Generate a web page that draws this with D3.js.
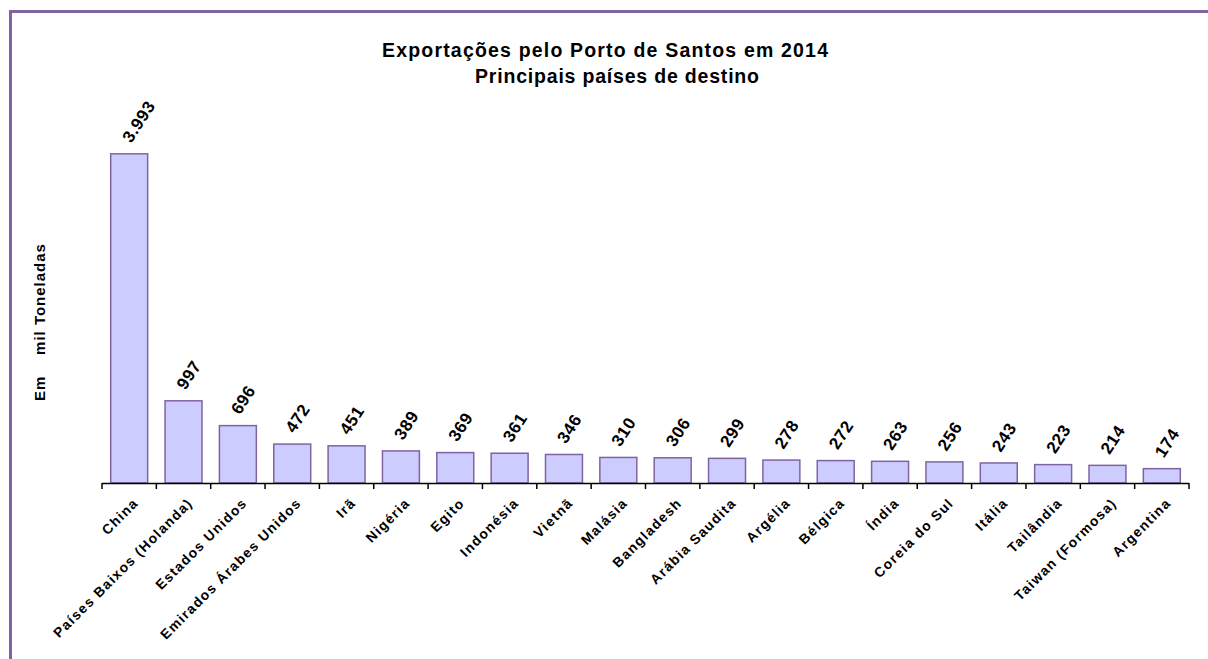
<!DOCTYPE html>
<html><head><meta charset="utf-8">
<script src="https://cdn.jsdelivr.net/npm/d3@7"></script>
<style>
html,body{margin:0;padding:0;background:#fff;}
svg{display:block;font-family:Arial,"Liberation Sans",sans-serif;}
</style></head>
<body>
<svg id="chart" width="1208" height="659"></svg>
<script>
const categories = ["China","Países Baixos (Holanda)","Estados Unidos","Emirados Árabes Unidos","Irã","Nigéria","Egito","Indonésia","Vietnã","Malásia","Bangladesh","Arábia Saudita","Argélia","Bélgica","Índia","Coreia do Sul","Itália","Tailândia","Taiwan (Formosa)","Argentina"];
const values = [3993,997,696,472,451,389,369,361,346,310,306,299,278,272,263,256,243,223,214,174];
const valueLabels = ["3.993","997","696","472","451","389","369","361","346","310","306","299","278","272","263","256","243","223","214","174"];
const titleLines = ["Exportações pelo Porto de Santos em 2014","Principais países de destino"];
const yAxisTitle = "Em    mil Toneladas";

const svg = d3.select("#chart");
const purple = "#8064A2";

// frame
svg.append("path").attr("d","M10.5,659 V11.5 H1208").attr("fill","none").attr("stroke",purple).attr("stroke-width",3);

const left = 102, right = 1189, base = 483;
const x = d3.scaleBand().domain(categories).range([left,right]).paddingInner(0.32).paddingOuter(0.16);
const y = d3.scaleLinear().domain([0,4500]).range([base,112]);

// title
svg.append("text").attr("x",605).attr("y",57).attr("text-anchor","middle")
  .attr("font-size",19.5).attr("font-weight","bold")
  .attr("textLength",446).attr("lengthAdjust","spacing").text(titleLines[0]);
svg.append("text").attr("x",617).attr("y",83).attr("text-anchor","middle")
  .attr("font-size",19.5).attr("font-weight","bold")
  .attr("textLength",284).attr("lengthAdjust","spacing").text(titleLines[1]);

// y axis title
svg.append("text").attr("transform","translate(45,322) rotate(-90)").attr("text-anchor","middle")
  .attr("font-size",15).attr("font-weight","bold").attr("letter-spacing",1)
  .style("white-space","pre").text(yAxisTitle);

// bars
svg.append("g").selectAll("rect").data(categories).join("rect")
  .attr("x",d=>x(d)).attr("width",x.bandwidth())
  .attr("y",(d,i)=>y(values[i])).attr("height",(d,i)=>base-y(values[i]))
  .attr("fill","#CCCCFF").attr("stroke",purple).attr("stroke-width",1.5);

// x axis line + ticks at band boundaries
const step = x.step();
const g = svg.append("g");
g.append("line").attr("x1",left).attr("x2",right).attr("y1",base+0.5).attr("y2",base+0.5).attr("stroke","#000").attr("stroke-width",1.5);
const bounds = categories.map(d=>x(d)-step*0.16).concat([right]);
g.selectAll("line.tick").data(bounds).join("line").attr("class","tick")
  .attr("x1",d=>d).attr("x2",d=>d).attr("y1",base).attr("y2",base+6).attr("stroke","#000").attr("stroke-width",1.5);

// category labels
svg.append("g").selectAll("text").data(categories).join("text")
  .attr("transform",d=>`translate(${x(d)+x.bandwidth()/2+10},${base+21}) rotate(-45)`)
  .attr("text-anchor","end").attr("letter-spacing",1.3)
  .attr("font-size",13.8).attr("font-weight","bold").text(d=>d);

// value labels
svg.append("g").selectAll("text").data(categories).join("text")
  .attr("transform",(d,i)=>`translate(${x(d)+x.bandwidth()/2+2},${y(values[i])-10}) rotate(-57)`)
  .attr("text-anchor","start").attr("letter-spacing",0.6)
  .attr("font-size",17).attr("font-weight","bold").text((d,i)=>valueLabels[i]);
</script>
</body></html>
